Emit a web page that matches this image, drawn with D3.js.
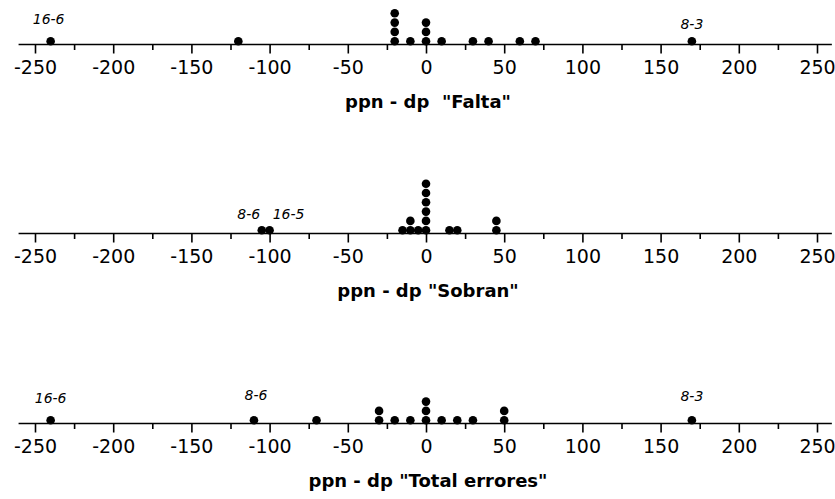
<!DOCTYPE html>
<html>
<head>
<meta charset="utf-8">
<script src="https://cdn.jsdelivr.net/npm/d3@7"></script>
<style>
  body { margin: 0; background: white; }
  svg { display: block; }
</style>
</head>
<body>
<script>
'use strict'

let width = 835,
    height = 499

// one entry per observation, repeated values are stacked
let faltaValues = [-240, -120, -20, -20, -20, -20, -10, 0, 0, 0, 10, 30, 40, 60, 70, 170]
let sobranValues = [-105, -100, -15, -10, -10, -5, 0, 0, 0, 0, 0, 0, 15, 20, 45, 45]
let totalValues = [-240, -110, -70, -30, -30, -20, -10, 0, 0, 0, 10, 20, 30, 50, 50, 170]

let faltaLabels = [{value: -240, text: '16-6'}, {value: 170, text: '8-3'}]
let sobranLabels = [{value: -105, text: '8-6'}, {value: -100, text: '16-5'}]
let totalLabels = [{value: -240, text: '16-6'}, {value: -110, text: '8-6'}, {value: 170, text: '8-3'}]

let majorTicks = [-250, -200, -150, -100, -50, 0, 50, 100, 150, 200, 250]
let minorTicks = [-225, -175, -125, -75, -25, 25, 75, 125, 175, 225]

let titles = ['ppn - dp  "Falta"', 'ppn - dp "Sobran"', 'ppn - dp "Total errores"']

// label nudges, [dx, dy from axis]
let labelNudge = [
    [[-2, -21], [0, -16]],
    [[-13, -15], [19, -15]],
    [[0, -21], [2, -24], [0, -23]]
]

let panels = [
    {values: faltaValues, labels: faltaLabels, title: titles[0], axisY: 44.5},
    {values: sobranValues, labels: sobranLabels, title: titles[1], axisY: 233.5},
    {values: totalValues, labels: totalLabels, title: titles[2], axisY: 423.5}
]

let font = 'Tahoma, "DejaVu Sans", sans-serif'

let x = d3.scaleLinear()
    .domain([-250, 250])
    .range([35, 817])

let r = 4.3,
    step = 9.3

let svg = d3.select('body').append('svg')
    .attr('width', width)
    .attr('height', height)

svg.append('rect')
    .attr('width', width)
    .attr('height', height)
    .attr('fill', 'white')

panels.forEach(function(p, pi) {
    let g = svg.append('g')
        .attr('transform', 'translate(0,' + p.axisY + ')')

    g.append('line')
        .attr('x1', x(-260.5))
        .attr('x2', x(259.5))
        .attr('y1', 0)
        .attr('y2', 0)
        .attr('stroke', 'black')
        .attr('stroke-width', 1.6)

    let axis = g.append('g')
        .call(d3.axisBottom(x)
            .tickValues(majorTicks)
            .tickSize(9)
            .tickPadding(7)
            .tickSizeOuter(0)
            .tickFormat(function(d) { return String(d) }))
    axis.select('.domain').remove()
    axis.selectAll('line').attr('stroke-width', 1.6)
    axis.selectAll('text')
        .attr('font-family', font)
        .attr('font-size', 19)
        .attr('fill', 'black')
    axis.attr('font-family', null).attr('font-size', null)

    let minor = g.append('g')
        .call(d3.axisBottom(x).tickValues(minorTicks).tickSize(5.5).tickFormat(''))
    minor.select('.domain').remove()
    minor.selectAll('line').attr('stroke-width', 1.6)

    // stack repeated values
    let seen = new Map()
    let dots = p.values.map(function(v) {
        let k = seen.get(v) || 0
        seen.set(v, k + 1)
        return {value: v, level: k}
    })

    g.selectAll('circle').data(dots).enter()
        .append('circle')
        .attr('cx', function(d) { return x(d.value) })
        .attr('cy', function(d) { return -3.3 - d.level * step })
        .attr('r', r)
        .attr('fill', 'black')

    g.selectAll('.lbl').data(p.labels).enter()
        .append('text')
        .attr('class', 'lbl')
        .attr('x', function(d, i) { return x(d.value) + labelNudge[pi][i][0] })
        .attr('y', function(d, i) { return labelNudge[pi][i][1] })
        .attr('text-anchor', 'middle')
        .attr('font-family', font)
        .attr('font-style', 'italic')
        .attr('font-size', 14)
        .attr('fill', 'black')
        .text(function(d) { return d.text })

    g.append('text')
        .attr('x', x(0) + 2)
        .attr('y', 63.5)
        .attr('text-anchor', 'middle')
        .attr('font-family', font)
        .attr('font-weight', 'bold')
        .attr('font-size', 18)
        .attr('fill', 'black')
        .style('white-space', 'pre')
        .text(p.title)
})
</script>
</body>
</html>
